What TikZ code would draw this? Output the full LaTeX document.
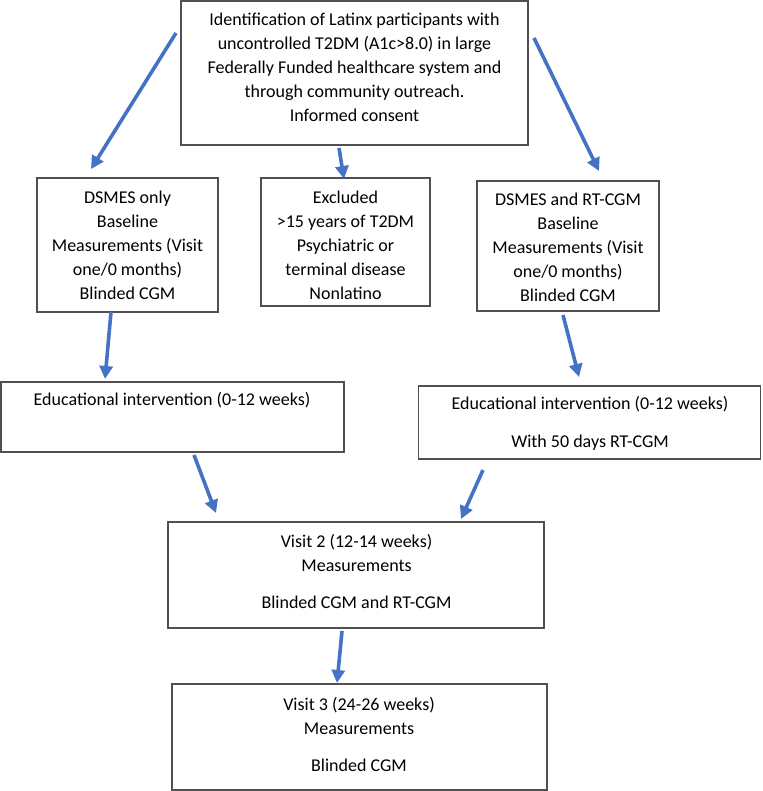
\documentclass[tikz,border=0pt]{standalone}
\usepackage{fontspec}
\setmainfont{Carlito}
\usetikzlibrary{arrows.meta}
\definecolor{arrowblue}{HTML}{4472C4}
\definecolor{boxgray}{HTML}{505050}
\tikzset{
  boxnode/.style={draw=boxgray, line width=1.3pt, rectangle, inner sep=0pt},
  txt/.style={align=center, inner sep=0pt, font=\fontsize{18}{24}\selectfont},
  flow/.style={draw=arrowblue, line width=3.6pt, -{Triangle[width=13pt,length=13pt]}},
}
\begin{document}
\begin{tikzpicture}[x=1pt,y=-1pt]
\useasboundingbox (0,0) rectangle (762,791);
% boxes
\node[boxnode, minimum width=347pt, minimum height=144pt] (top) at (354.5,73) {};
\node[boxnode, minimum width=181pt, minimum height=134pt] (left) at (127.5,245) {};
\node[boxnode, minimum width=169pt, minimum height=128pt] (excl) at (345.5,242) {};
\node[boxnode, minimum width=182pt, minimum height=130pt] (right) at (568,246) {};
\node[boxnode, minimum width=343pt, minimum height=70pt] (eduL) at (172.5,417) {};
\node[boxnode, minimum width=342pt, minimum height=73pt] (eduR) at (589.5,422.5) {};
\node[boxnode, minimum width=376pt, minimum height=106pt] (v2) at (356,575) {};
\node[boxnode, minimum width=375pt, minimum height=106pt] (v3) at (359.5,737) {};
% texts
\node[txt] (topT) at (354.5,67) {Identification of Latinx participants with\\uncontrolled T2DM (A1c>8.0) in large\\Federally Funded healthcare system and\\through community outreach.\\Informed consent};
\node[txt] (leftT) at (127.5,245) {DSMES only\\Baseline\\Measurements (Visit\\one/0 months)\\Blinded CGM};
\node[txt] (exclT) at (345.5,245) {Excluded\\>15 years of T2DM\\Psychiatric or\\terminal disease\\Nonlatino};
\node[txt] (rightT) at (568,247) {DSMES and RT-CGM\\Baseline\\Measurements (Visit\\one/0 months)\\Blinded CGM};
\node[txt] (eduLT) at (172,400) {Educational intervention (0-12 weeks)};
\node[txt] (eduRT) at (590,423) {Educational intervention (0-12 weeks)\\[14pt]With 50 days RT-CGM};
\node[txt] (v2T) at (356.5,571) {Visit 2 (12-14 weeks)\\Measurements\\[13pt]Blinded CGM and RT-CGM};
\node[txt] (v3T) at (359,734) {Visit 3 (24-26 weeks)\\Measurements\\[13pt]Blinded CGM};
% arrow endpoints
\coordinate (a1s) at (176,33);  \coordinate (a1e) at (91,169);
\coordinate (a2s) at (339,148); \coordinate (a2e) at (344,179);
\coordinate (a3s) at (534,38);  \coordinate (a3e) at (599,171);
\coordinate (a4s) at (111,312); \coordinate (a4e) at (105,379);
\coordinate (a5s) at (563,315); \coordinate (a5e) at (579,377);
\coordinate (a6s) at (194,455); \coordinate (a6e) at (216,513);
\coordinate (a7s) at (483,470); \coordinate (a7e) at (461,519);
\coordinate (a8s) at (342,631); \coordinate (a8e) at (337,683);
\draw[flow] (a1s) -- (a1e);
\draw[flow] (a2s) -- (a2e);
\draw[flow] (a3s) -- (a3e);
\draw[flow] (a4s) -- (a4e);
\draw[flow] (a5s) -- (a5e);
\draw[flow] (a6s) -- (a6e);
\draw[flow] (a7s) -- (a7e);
\draw[flow] (a8s) -- (a8e);
\end{tikzpicture}
\end{document}
